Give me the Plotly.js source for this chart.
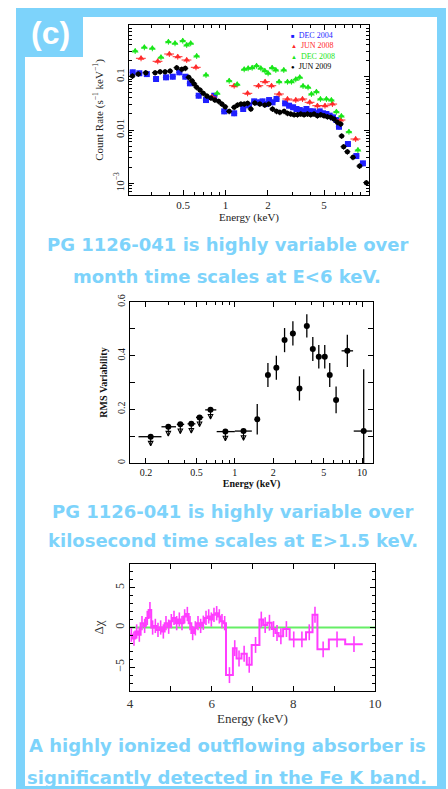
<!DOCTYPE html>
<html><head><meta charset="utf-8">
<script src="https://cdn.plot.ly/plotly-3.0.1.min.js"></script>
<style>html,body{margin:0;padding:0;background:#fff;}#chart{width:448px;height:789px;}</style>
</head><body><div id="chart"></div>
<script>
// ---------- Panel 1: spectra (count rate vs energy) ----------
const seriesNames = ['DEC 2004', 'JUN 2008', 'DEC 2008', 'JUN 2009'];
const dec2004E = [0.220,0.245,0.277,0.322,0.379,0.423,0.471,0.519,0.560,0.646,0.728,0.833,0.980,1.153,1.336,1.47,1.598,1.717,1.832,1.934,2.040,2.157,2.302,2.650,2.827,3.017,3.190,3.365,3.550,3.753,3.961,4.180,4.418,4.661,4.920,5.200,5.487,5.790,6.120,6.385,7.39,8.48,9.44];
const dec2004R = [0.121,0.116,0.112,0.0905,0.0974,0.100,0.121,0.100,0.0752,0.0440,0.0365,0.0440,0.0224,0.0206,0.0248,0.0290,0.0345,0.0331,0.0345,0.0307,0.0365,0.0331,0.0382,0.0317,0.0286,0.0267,0.0248,0.0237,0.0224,0.0248,0.0224,0.0224,0.0206,0.0224,0.0206,0.0200,0.0186,0.0173,0.0154,0.0115,0.00546,0.00325,0.00237];
const jun2008E = [0.252,0.331,0.400,0.459,0.531,0.618,0.802,1.153,1.435,1.717,1.911,2.122,2.402,2.754,3.153,3.517,3.961,4.490,5.080,5.734,6.565,8.38];
const jun2008R = [0.2215,0.1945,0.2667,0.2372,0.2057,0.150,0.0416,0.0678,0.0488,0.0678,0.0806,0.0678,0.0474,0.0382,0.0365,0.0382,0.0331,0.0286,0.0286,0.0307,0.0154,0.00678];
const dec2008E = [0.229,0.266,0.303,0.349,0.394,0.439,0.498,0.531,0.567,0.625,0.728,0.874,1.063,1.211,1.358,1.449,1.547,1.662,1.782,1.902,2.007,2.143,2.276,2.402,2.593,2.754,2.939,3.153,3.365,3.550,3.853,4.072,4.418,4.716,5.200,5.640,6.120,6.640,7.510,8.700];
const dec2008R = [0.3035,0.356,0.341,0.2312,0.4536,0.4233,0.4735,0.3934,0.4233,0.2446,0.1076,0.0488,0.0841,0.072,0.1377,0.1438,0.1476,0.1609,0.1438,0.1296,0.1158,0.1476,0.1336,0.0806,0.1336,0.0806,0.0806,0.0894,0.0974,0.0669,0.0633,0.0474,0.0523,0.0382,0.0382,0.0365,0.0220,0.0183,0.0093,0.00421];
const jun2009E = [0.219,0.241,0.272,0.317,0.344,0.373,0.405,0.451,0.490,0.519,0.549,0.579,0.601,0.625,0.660,0.696,0.739,0.789,0.842,0.895,0.944,0.996,1.063,1.153,1.219,1.287,1.358,1.435,1.514,1.616,1.754,1.902,2.030,2.157,2.302,2.430,2.606,2.754,2.906,3.067,3.242,3.420,3.610,3.815,4.025,4.247,4.490,4.740,5.000,5.285,5.577,5.885,6.220,6.565,6.670,6.890,7.320,8.020,8.940,9.980];
const jun2009R = [0.1031,0.1124,0.1189,0.119,0.124,0.124,0.128,0.1476,0.1377,0.1438,0.0974,0.0841,0.073,0.0632,0.0563,0.0488,0.0434,0.0398,0.0365,0.0345,0.0307,0.0273,0.0224,0.0267,0.0294,0.0307,0.0307,0.0317,0.0248,0.0321,0.0307,0.0294,0.0307,0.0248,0.0224,0.0215,0.0224,0.0206,0.0200,0.0194,0.0194,0.0200,0.0194,0.0200,0.0194,0.0200,0.01855,0.0194,0.0186,0.01776,0.0173,0.0161,0.01395,0.01296,0.00772,0.00486,0.00392,0.00308,0.00211,0.00103];
const p1XTicks = [0.5, 1, 2, 5];
const p1XTickText = ['0.5', '1', '2', '5'];
const p1YTicks = [0.001, 0.01, 0.1];
const p1YTickText = ['10<sup>−3</sup>', '0.01', '0.1'];

// ---------- Panel 2: RMS variability ----------
const rmsE    = [0.218,0.30,0.373,0.455,0.528,0.644,0.843,1.17,1.50,1.82,2.12,2.46,2.86,3.22,3.68,4.10,4.57,5.09,5.57,6.25,7.66,10.3];
const rmsElo  = [0.175,0.265,0.350,0.425,0.495,0.585,0.72,1.0,1.44,1.75,2.04,2.36,2.75,3.09,3.53,3.94,4.39,4.89,5.35,6.0,6.9,8.6];
const rmsEhi  = [0.265,0.345,0.400,0.490,0.565,0.715,1.0,1.36,1.56,1.90,2.21,2.56,2.98,3.35,3.83,4.27,4.76,5.30,5.80,6.5,8.5,12.0];
const rmsVal  = [0.098,0.135,0.144,0.146,0.170,0.198,0.117,0.119,0.163,0.328,0.355,0.458,0.483,0.278,0.511,0.425,0.396,0.396,0.328,0.235,0.418,0.119];
const rmsErr  = [0,0,0,0,0,0,0,0,0.057,0.045,0.045,0.045,0.045,0.045,0.043,0.045,0.044,0.044,0.045,0.05,0.06,0.23];
const rmsUpper= [1,1,1,1,1,1,1,1,0,0,0,0,0,0,0,0,0,0,0,0,0,0];
const p2XTicks = [0.2, 0.5, 1, 2, 5, 10];

// ---------- Panel 3: residuals ----------
const resLo = [4.0,4.065,4.13,4.196,4.26,4.327,4.39,4.457,4.52,4.588,4.653,4.718,4.784,4.849,4.914,4.98,5.045,5.11,5.176,5.24,5.306,5.371,5.437,5.502,5.567,5.633,5.698,5.763,5.829,5.894,5.96,6.024,6.09,6.155,6.22,6.286,6.351,6.52,6.61,6.73,6.86,6.98,7.17,7.26,7.36,7.47,7.56,7.64,7.75,7.91,8.11,8.31,8.47,8.59,8.87,9.27];
const resHi = [4.065,4.13,4.196,4.26,4.327,4.39,4.457,4.52,4.588,4.653,4.718,4.784,4.849,4.914,4.98,5.045,5.11,5.176,5.24,5.306,5.371,5.437,5.502,5.567,5.633,5.698,5.763,5.829,5.894,5.96,6.024,6.09,6.155,6.22,6.286,6.351,6.52,6.61,6.73,6.86,6.98,7.17,7.26,7.36,7.47,7.56,7.64,7.75,7.91,8.11,8.31,8.47,8.59,8.87,9.27,9.7];
const resVal = [-0.9,-1.4,-0.5,-0.9,0.55,0.2,1.2,2.2,0,0.2,-0.3,0,-0.5,0.55,0.1,0.8,1.2,0.55,1.0,0.55,1.4,1.7,0.55,-0.7,-0.1,0.55,0.2,0.6,1.2,1.4,1.0,1.6,1.8,1.4,0.8,0.55,-6.0,-2.6,-3.9,-3.3,-4.7,-2.2,1.0,0.3,0.6,-0.2,-0.7,-1.1,-0.2,-1.5,-1.5,-0.6,1.6,-2.75,-1.5,-2.1];
const resErr = [0.9,0.9,0.9,0.9,0.9,0.9,0.9,1.0,0.9,0.9,0.9,0.9,0.9,0.9,0.9,0.9,0.9,0.9,0.9,0.9,0.9,0.9,0.9,0.9,0.9,0.9,0.9,0.9,0.9,0.9,0.9,0.9,0.9,0.9,0.9,0.9,1.0,1.0,1.0,1.0,1.0,1.0,1.0,1.0,1.0,1.0,1.0,1.0,1.0,1.0,1.0,1.0,1.0,1.0,1.0,1.0];

// ---------- styles ----------
const BLUE = '#7dd3fb';
const SERIF = 'Liberation Serif, Times New Roman, serif';
const CAPFONT = 'DejaVu Sans, Verdana, sans-serif';
const SANS = 'Liberation Sans, Arial, sans-serif';
const W = 448, H = 789;
const px = v => v / W, py = v => 1 - v / H;
const ARROW = 0.034; // length of upper-limit arrow shaft (style)

const colors = ['#1f1fff', '#ff2a2a', '#19e619', '#000000'];
const symbols = ['square', 'triangle-up', 'triangle-up', 'circle'];
const glyphs = ['■', '▲', '▲', '●'];
const p1Data = [[dec2004E, dec2004R], [jun2008E, jun2008R], [dec2008E, dec2008R], [jun2009E, jun2009R]];

const traces = p1Data.map((d, i) => ({
  type: 'scatter', mode: 'markers', x: d[0], y: d[1], xaxis: 'x', yaxis: 'y', name: seriesNames[i],
  marker: {symbol: symbols[i], size: i === 3 ? 5 : 6, color: colors[i]},
  error_x: {type: 'percent', value: i === 1 ? 8 : 5, color: colors[i], thickness: 1, width: 0},
  error_y: {type: 'percent', value: 12, color: colors[i], thickness: 1, width: 0}
}));

traces.push({
  type: 'scatter', mode: 'markers', x: rmsE, y: rmsVal, xaxis: 'x2', yaxis: 'y2',
  marker: {symbol: 'circle', size: 6, color: '#000'},
  error_x: {type: 'data', symmetric: false, array: rmsE.map((e, i) => rmsEhi[i] - e), arrayminus: rmsE.map((e, i) => e - rmsElo[i]), color: '#000', thickness: 1.3, width: 0},
  error_y: {type: 'data', array: rmsErr, color: '#000', thickness: 1.3, width: 0}
});
// upper-limit arrows: shaft (downward error bar) + open arrow head
const ulE = rmsE.filter((e, i) => rmsUpper[i]);
const ulV = rmsVal.filter((v, i) => rmsUpper[i]);
traces.push({
  type: 'scatter', mode: 'markers', x: ulE, y: ulV, xaxis: 'x2', yaxis: 'y2',
  marker: {size: 1, color: '#000'},
  error_y: {type: 'constant', symmetric: false, value: 0, valueminus: ARROW, color: '#000', thickness: 1.1, width: 0}
});
traces.push({
  type: 'scatter', mode: 'markers', x: ulE, y: ulV.map(v => v - ARROW), xaxis: 'x2', yaxis: 'y2',
  marker: {symbol: 'arrow-down-open', size: 4.5, color: '#000', line: {color: '#000', width: 1.1}}
});

const stepX = [], stepY = [];
resLo.forEach((lo, i) => { stepX.push(lo, resHi[i]); stepY.push(resVal[i], resVal[i]); });
traces.push({
  type: 'scatter', mode: 'lines', x: stepX, y: stepY, xaxis: 'x3', yaxis: 'y3',
  line: {color: '#ff3dff', width: 2}
});
traces.push({
  type: 'scatter', mode: 'markers', x: resLo.map((lo, i) => (lo + resHi[i]) / 2), y: resVal, xaxis: 'x3', yaxis: 'y3',
  marker: {size: 1, color: '#ff3dff'},
  error_y: {type: 'data', array: resErr, color: '#ff3dff', thickness: 1.6, width: 0}
});

function ax(extra) {
  return Object.assign({
    showline: true, linecolor: '#000', linewidth: 1, mirror: 'allticks', ticks: 'inside', ticklen: 5,
    tickcolor: '#000', tickwidth: 1, showgrid: false, zeroline: false,
    tickfont: {family: SERIF, size: 11, color: '#222'}
  }, extra);
}
const logMinorX = [0.3,0.4,0.6,0.7,0.8,0.9,3,4,6,7,8,9];
const logMinorY = [6e-4,7e-4,8e-4,9e-4,2e-3,3e-3,4e-3,5e-3,6e-3,7e-3,8e-3,9e-3,0.02,0.03,0.04,0.05,0.06,0.07,0.08,0.09,0.2,0.3,0.4,0.5,0.6,0.7,0.8,0.9];

const annotations = [];
annotations.push({
  xref: 'paper', yref: 'paper', x: px(289), y: py(29.5), xanchor: 'left', yanchor: 'top', align: 'left', showarrow: false,
  text: seriesNames.map((n, i) => '<span style="color:' + colors[i] + '"><span style="font-size:6px">' + glyphs[i] + '</span>  ' + n + '</span>').join('<br>'),
  font: {family: SERIF, size: 8, color: '#000'}
});
const captions = [
  ['PG 1126-041 is highly variable over', 228, 245],
  ['month time scales at E<6 keV.', 227, 276],
  ['PG 1126-041 is highly variable over', 233, 511],
  ['kilosecond time scales at E>1.5 keV.', 233, 540],
  ['A highly ionized outflowing absorber is', 227, 745],
  ['significantly detected in the Fe K band.', 227, 777]
];
captions.forEach(c => annotations.push({
  xref: 'paper', yref: 'paper', x: px(c[1]), y: py(c[2]), xanchor: 'center', yanchor: 'middle', showarrow: false,
  text: '<b>' + c[0].replace('<', '&lt;').replace('>', '&gt;') + '</b>', font: {family: CAPFONT, size: 18, color: BLUE}
}));
annotations.push({xref: 'paper', yref: 'paper', x: px(50), y: py(33), xanchor: 'center', yanchor: 'middle', showarrow: false,
  text: '<b>(c)</b>', font: {family: SANS, size: 32, color: '#fff'}});

const shapes = [
  {type: 'rect', xref: 'paper', yref: 'paper', x0: px(16), x1: px(446), y0: py(8), y1: py(790), fillcolor: BLUE, line: {width: 0}, layer: 'below'},
  {type: 'rect', xref: 'paper', yref: 'paper', x0: px(25), x1: px(437), y0: py(17), y1: py(786), fillcolor: '#fff', line: {width: 0}, layer: 'below'},
  {type: 'rect', xref: 'paper', yref: 'paper', x0: px(16), x1: px(83), y0: py(8), y1: py(57), fillcolor: BLUE, line: {width: 0}, layer: 'below'},
  {type: 'line', xref: 'x3', yref: 'y3', x0: 4, x1: 10, y0: 0, y1: 0, line: {color: '#66ee66', width: 2}, layer: 'below'}
];

const layout = {
  width: W, height: H, margin: {l: 0, r: 0, t: 0, b: 0}, showlegend: false,
  paper_bgcolor: '#fff', plot_bgcolor: 'rgba(0,0,0,0)',
  xaxis: ax({type: 'log', range: [-0.684, 1.018], domain: [px(129), px(369)], anchor: 'y',
    tickmode: 'array', tickvals: p1XTicks, ticktext: p1XTickText,
    minor: {ticks: 'inside', ticklen: 3, tickcolor: '#000', tickvals: logMinorX},
    title: {text: 'Energy (keV)', font: {family: SERIF, size: 11, color: '#222'}, standoff: 3}}),
  yaxis: ax({type: 'log', range: [-3.219, -0.03], domain: [1 - 195 / H, 1 - 25 / H], anchor: 'x',
    tickmode: 'array', tickvals: p1YTicks, ticktext: p1YTickText, tickangle: -90,
    minor: {ticks: 'inside', ticklen: 3, tickcolor: '#000', tickvals: logMinorY},
    title: {text: 'Count Rate (s<sup>−1</sup> keV<sup>−1</sup>)', font: {family: SERIF, size: 11, color: '#222'}, standoff: 6}}),
  xaxis2: ax({type: 'log', range: [-0.824, 1.086], domain: [px(130), px(373)], anchor: 'y2',
    tickmode: 'array', tickvals: p2XTicks, ticktext: p2XTicks.map(String),
    tickfont: {family: SERIF, size: 10, color: '#111'},
    minor: {ticks: 'inside', ticklen: 3, tickcolor: '#000', tickvals: logMinorX},
    title: {text: '<b>Energy (keV)</b>', font: {family: SERIF, size: 10, color: '#111'}, standoff: 2}}),
  yaxis2: ax({range: [0, 0.6], domain: [1 - 463 / H, 1 - 302 / H], anchor: 'x2', dtick: 0.2, tickangle: -90,
    tickfont: {family: SERIF, size: 10, color: '#111'},
    minor: {ticks: 'inside', ticklen: 5, tickcolor: '#000', dtick: 0.1},
    title: {text: '<b>RMS Variability</b>', font: {family: SERIF, size: 10, color: '#111'}, standoff: 6}}),
  xaxis3: ax({range: [4, 10], domain: [px(130), px(375)], anchor: 'y3', dtick: 2, tick0: 4,
    tickfont: {family: SERIF, size: 13, color: '#333'},
    minor: {ticks: 'inside', ticklen: 5, tickcolor: '#000', dtick: 1},
    title: {text: 'Energy (keV)', font: {family: SERIF, size: 13, color: '#333'}, standoff: 4}}),
  yaxis3: ax({range: [-8, 8], domain: [1 - 691 / H, 1 - 564 / H], anchor: 'x3', dtick: 5, tick0: 0, tickangle: -90,
    tickfont: {family: SERIF, size: 12, color: '#333'},
    minor: {ticks: 'inside', ticklen: 3, tickcolor: '#000', dtick: 1},
    title: {text: 'Δχ', font: {family: SERIF, size: 13, color: '#333'}, standoff: 6}}),
  annotations: annotations, shapes: shapes
};
Plotly.newPlot('chart', traces, layout, {staticPlot: true, displayModeBar: false});
</script></body></html>
